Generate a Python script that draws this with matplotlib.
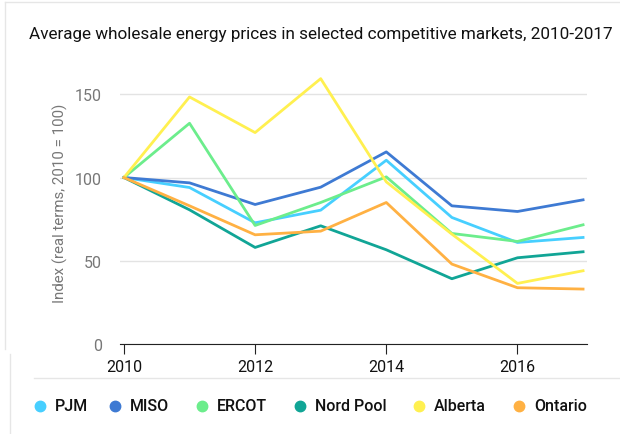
import matplotlib
matplotlib.use("Agg")
import matplotlib.pyplot as plt
from matplotlib.lines import Line2D

years = [2010, 2011, 2012, 2013, 2014, 2015, 2016, 2017]
pjm = [100, 94, 72.8, 80.4, 110.4, 76, 61, 64]
miso = [100, 96.8, 83.8, 94.2, 115.4, 83, 79.6, 86.6]
ercot = [100, 132.6, 71.2, 85, 100.4, 66.4, 61.6, 71.6]
nordpool = [100, 80.6, 58, 71, 56.6, 39.2, 51.8, 55.4]
alberta = [100, 148.4, 127, 159.4, 97.4, 66, 36.4, 44]
ontario = [100, 83, 65.6, 67.8, 85, 48, 33.8, 33]

names = ['PJM', 'MISO', 'ERCOT', 'Nord Pool', 'Alberta', 'Ontario']
series = [pjm, miso, ercot, nordpool, alberta, ontario]
colors = ['#47cfff', '#3e7ad3', '#6ced8c', '#11a596', '#fff050', '#ffb143']

plt.rcParams['font.family'] = ['Roboto', 'DejaVu Sans']

W, H = 620, 435
fig = plt.figure(figsize=(6.2, 4.35), dpi=100)
ax = fig.add_axes([120/W, 1-345/H, 467/W, 283/H])

for vals, c, n in zip(series, colors, names):
    ax.plot(years, vals, color=c, lw=2, label=n)

ax.set_xlim(2009.94, 2017.06)
ax.set_ylim(0, 170)
ax.set_yticks([0, 50, 100, 150])
ax.set_xticks([2010, 2012, 2014, 2016])
ax.grid(axis='y', color='#e3e3e3', lw=1)
ax.set_axisbelow(True)
for s in ['top', 'right', 'left']:
    ax.spines[s].set_visible(False)
ax.spines['bottom'].set_color('#222222')
ax.tick_params(axis='y', length=0, pad=13, labelcolor='#777777', labelsize=11.5)
ax.tick_params(axis='x', length=7.5, color='#222222', labelcolor='#111111', labelsize=11.5, pad=3)
ax.set_ylabel('Index (real terms, 2010 = 100)', color='#777777', fontsize=10.8)
ax.yaxis.set_label_coords(-0.112, 0.5)

fig.text(29/W, 1-39/H, 'Average wholesale energy prices in selected competitive markets, 2010-2017',
         fontsize=12.3, color='#111111', va='baseline')

# legend, placed by hand like the original
dot_x = [40, 115, 202, 300, 419, 519]
ly = 1-407/H
for x, c, n in zip(dot_x, colors, names):
    fig.add_artist(Line2D([x/W], [ly], marker='o', ls='none', color=c, markersize=7.5))
    fig.text((x+15)/W, ly, n, fontsize=11.5, fontweight='medium', color='#111111', va='center')

# panel borders
fig.add_artist(Line2D([5/W, 5/W], [1-350/H, 1-3/H], color='#e6e6e6', lw=1))
fig.add_artist(Line2D([5/W, 1], [1-3/H, 1-3/H], color='#e6e6e6', lw=1))
fig.add_artist(Line2D([10/W, 10/W], [0, 1-355/H], color='#e6e6e6', lw=1))
fig.add_artist(Line2D([34/W, 1], [1-379/H, 1-379/H], color='#e6e6e6', lw=1))

fig.savefig('out.png', dpi=100, facecolor='white')
